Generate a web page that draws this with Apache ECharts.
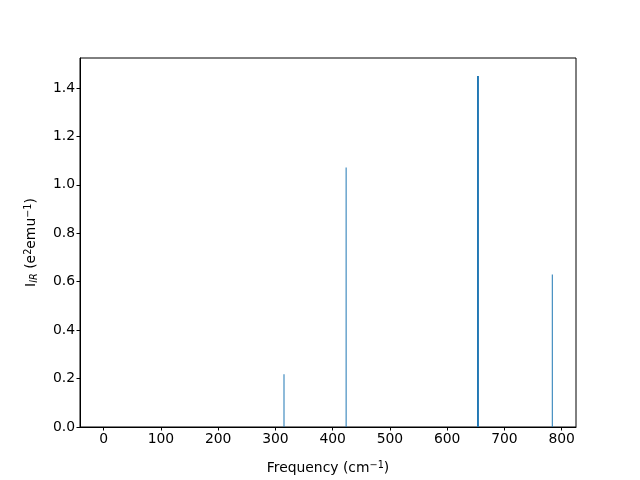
<!DOCTYPE html>
<html>
<head>
<meta charset="utf-8">
<script src="https://cdn.jsdelivr.net/npm/echarts@6/dist/echarts.min.js"></script>
<style>html,body{margin:0;padding:0;background:#fff;}#c{width:640px;height:480px;}</style>
</head>
<body>
<div id="c"></div>
<script>
var frequencies = [315.0, 423.5, 653.0, 654.6, 783.6];
var intensities = [0.218, 1.072, 1.450, 1.450, 0.630];
var xTicks = [0, 100, 200, 300, 400, 500, 600, 700, 800];
var yTicks = [0, 0.2, 0.4, 0.6, 0.8, 1.0, 1.2, 1.4];

var font = 'DejaVu Sans';
var chart = echarts.init(document.getElementById('c'), null, {renderer: 'canvas'});
var data = frequencies.map(function (f, i) { return [f, intensities[i]]; });

chart.setOption({
  animation: false,
  backgroundColor: '#fff',
  grid: {left: 80, right: 64, top: 58, bottom: 53, show: true, borderColor: '#000', borderWidth: 1, backgroundColor: 'transparent'},
  xAxis: {
    type: 'value', min: -41.3, max: 825,
    axisLine: {show: true, onZero: false, lineStyle: {color: '#000', width: 1}},
    axisTick: {show: true, length: 3.5, inside: false, customValues: xTicks, lineStyle: {color: '#000'}},
    axisLabel: {customValues: xTicks, color: '#000', fontFamily: font, fontSize: 13.9, margin: 5, formatter: function (v) { return String(v); }},
    splitLine: {show: false},
    name: '{t|Frequency (cm}{s|−1}{t|)}',
    nameLocation: 'middle', nameGap: 33,
    nameTextStyle: {rich: {t: {fontFamily: font, fontSize: 13.9, color: '#000'}, s: {fontFamily: font, fontSize: 9.7, color: '#000', verticalAlign: 'bottom', padding: [0, 0, 6, 0]}}}
  },
  yAxis: {
    type: 'value', min: 0, max: 1.524,
    axisLine: {show: true, onZero: false, lineStyle: {color: '#000', width: 1}},
    axisTick: {show: true, length: 3.5, inside: false, customValues: yTicks, lineStyle: {color: '#000'}},
    axisLabel: {customValues: yTicks, color: '#000', fontFamily: font, fontSize: 13.9, margin: 5, formatter: function (v) { return v.toFixed(1); }},
    splitLine: {show: false},
    name: '{t|I}{sub|IR}{t| (e}{s|2}{t|emu}{s|−1}{t|)}',
    nameLocation: 'middle', nameGap: 41, nameRotate: 90,
    nameTextStyle: {rich: {
      t: {fontFamily: font, fontSize: 13.9, color: '#000'},
      s: {fontFamily: font, fontSize: 9.7, color: '#000', verticalAlign: 'bottom', padding: [0, 0, 6, 0]},
      sub: {fontFamily: font, fontSize: 9.7, fontStyle: 'italic', color: '#000', verticalAlign: 'top', padding: [6, 0, 0, 0]}
    }}
  },
  series: [{
    type: 'bar',
    data: data,
    barWidth: 1,
    itemStyle: {color: '#1f77b4'},
    silent: true
  }]
});
</script>
</body>
</html>
